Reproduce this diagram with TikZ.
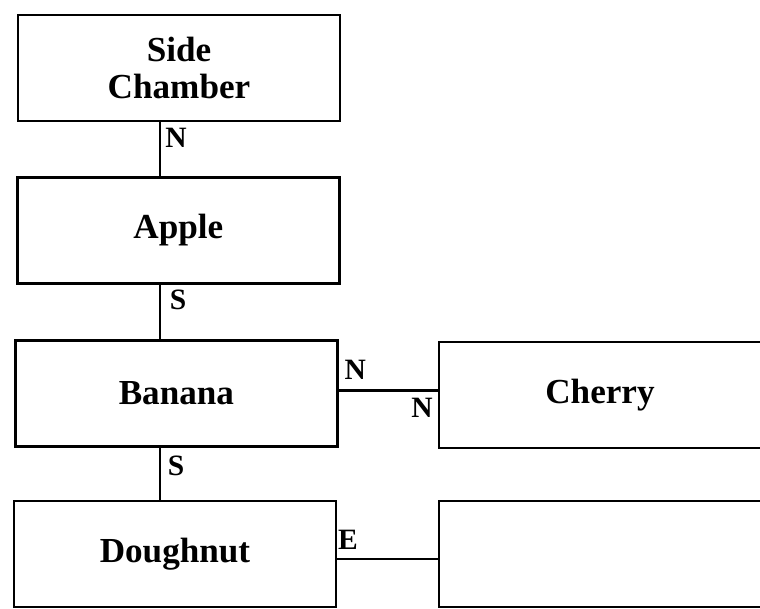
\documentclass[tikz,border=0pt]{standalone}
\usepackage{fontspec}
\setmainfont{Liberation Serif}
\usepackage{tikz}

\begin{document}
\begin{tikzpicture}[auto]

%
% Styles
%
\tikzstyle{room}  = [rectangle,draw=black,line width=2pt,minimum width=8.05cm,minimum height=2.65cm,align=center,font=\fontsize{25}{26}\selectfont\bfseries]
\tikzstyle{dir}   = [inner sep=0pt,font=\fontsize{21}{23}\selectfont\bfseries]
\tikzstyle{edge}  = [line width=1.8pt]

\useasboundingbox (0,0) rectangle (19,-15.2);

\node[room]  (sc) at ( 4.475,  -1.70)  {Side\\Chamber};
\node[room]  (ap) at ( 4.46,   -5.76)  {Apple};
\node[room]  (ba) at ( 4.41,   -9.84)  {Banana};
\node[room]  (ch) at (15.0,    -9.875) {Cherry};
\node[room]  (dn) at ( 4.375, -13.85)  {Doughnut};
\node[room]  (em) at (15.0,   -13.85)  {};

\coordinate (spine) at (4.0, 0);

\node[dir]   (n1) at ( 4.40,  -3.45)  {N};
\node[dir]   (s1) at ( 4.45,  -7.50)  {S};
\node[dir]   (n2) at ( 8.88,  -9.25)  {N};
\node[dir]   (n3) at (10.55, -10.20)  {N};
\node[dir]   (s2) at ( 4.40, -11.65)  {S};
\node[dir]   (e1) at ( 8.70, -13.50)  {E};

\draw[edge] (sc.south -| spine) -- (ap.north -| spine);
\draw[edge] (ap.south -| spine) -- (ba.north -| spine);
\draw[edge] (ba.south -| spine) -- (dn.north -| spine);
\draw[edge] ([yshift=0.08cm]ba.east) -- ([yshift=0.08cm]ba.east -| ch.west);
\draw[edge] ([yshift=-0.13cm]dn.east) -- ([yshift=-0.13cm]dn.east -| em.west);

\end{tikzpicture}
\end{document}
